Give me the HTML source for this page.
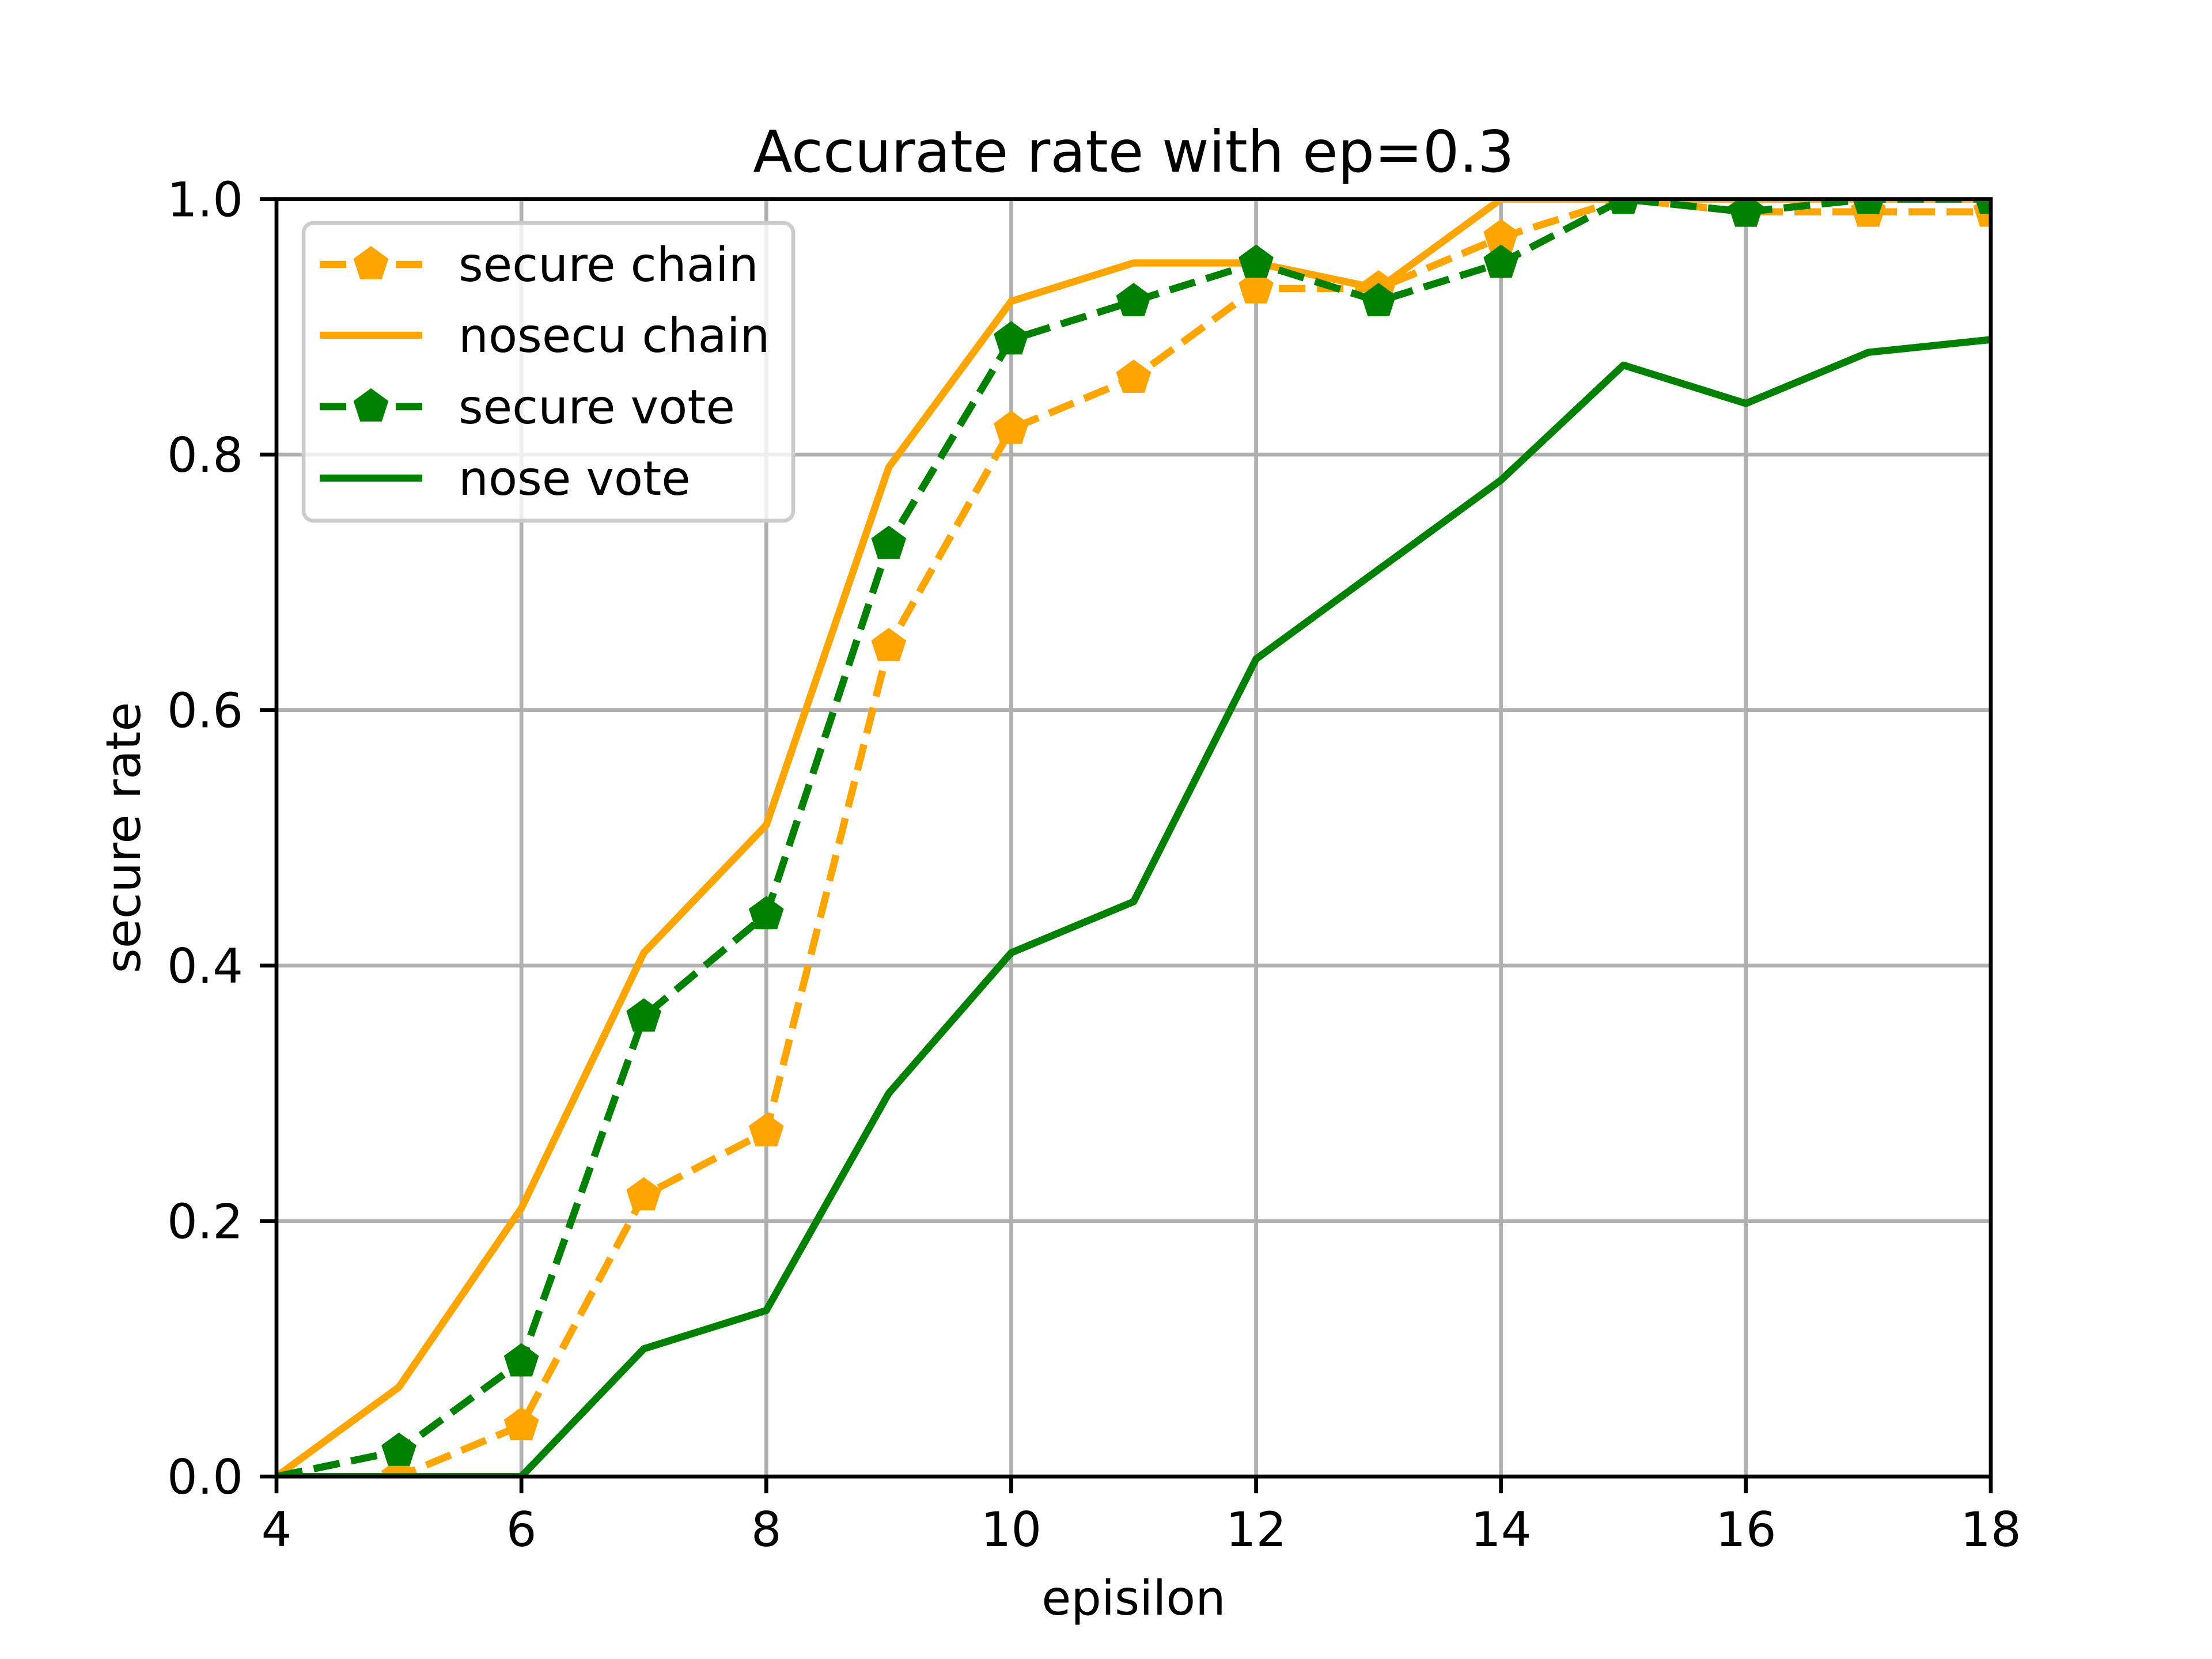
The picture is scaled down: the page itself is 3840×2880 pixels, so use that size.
<!DOCTYPE html>
<html><head><meta charset="utf-8">
<style>
html,body{margin:0;padding:0;background:#fff;}
svg{display:block;font-family:"DejaVu Sans","Liberation Sans",sans-serif;}
</style></head>
<body>
<svg id="chart" width="3840" height="2880" viewBox="0 0 3840 2880" xmlns="http://www.w3.org/2000/svg">
<defs><clipPath id="plotclip"><rect x="480" y="345.6" width="2976" height="2217.6"/></clipPath></defs>
<rect width="3840" height="2880" fill="#fff"/>
<g id="grid"></g>
<g id="series" clip-path="url(#plotclip)"></g>
<g id="axes"></g>
<text x="1968" y="298" font-size="100" text-anchor="middle">Accurate rate with ep=0.3</text>
<text x="1968" y="2803" font-size="83" text-anchor="middle">episilon</text>
<text x="0" y="0" font-size="83" text-anchor="middle" transform="translate(243,1454) rotate(-90)">secure rate</text>
<g id="legend"></g>
</svg>
<script>
const xValues = [4,5,6,7,8,9,10,11,12,13,14,15,16,17,18];
const secureChain = [0,0,0.04,0.22,0.27,0.65,0.82,0.86,0.93,0.93,0.97,1.0,0.99,0.99,0.99];
const nosecuChain = [0,0.07,0.21,0.41,0.51,0.79,0.92,0.95,0.95,0.93,1.0,1.0,1.0,1.0,1.0];
const secureVote = [0,0.02,0.09,0.36,0.44,0.73,0.89,0.92,0.95,0.92,0.95,1.0,0.99,1.0,1.0];
const noseVote = [0,0,0,0.10,0.13,0.30,0.41,0.45,0.64,0.71,0.78,0.87,0.84,0.88,0.89];
const xTicks = [4,6,8,10,12,14,16,18];
const yTicks = [0,0.2,0.4,0.6,0.8,1.0];
const yTickLabels = ["0.0","0.2","0.4","0.6","0.8","1.0"];
const seriesNames = ["secure chain","nosecu chain","secure vote","nose vote"];

const NS="http://www.w3.org/2000/svg";
const L=480,R=3456,T=345.6,B=2563.2;
const xMin=4,xMax=18,yMin=0,yMax=1;
function sx(v){return L+(v-xMin)/(xMax-xMin)*(R-L);}
function sy(v){return B-(v-yMin)/(yMax-yMin)*(B-T);}
function mk(tag,attrs,parent){const e=document.createElementNS(NS,tag);for(const k in attrs)e.setAttribute(k,attrs[k]);parent.appendChild(e);return e;}
const grid=document.getElementById('grid'),axes=document.getElementById('axes'),ser=document.getElementById('series'),leg=document.getElementById('legend');

xTicks.forEach(t=>{
  const g=mk('line',{x1:sx(t),x2:sx(t),y1:T,y2:B,stroke:'#b0b0b0','stroke-width':6.7},grid);
  
  
  const tk=mk('line',{x1:sx(t),x2:sx(t),y1:B,y2:B+29,stroke:'#000','stroke-width':6.7},axes);
  
  
  const tx=mk('text',{x:sx(t),y:2684,'font-size':83,'text-anchor':'middle'},axes);
  tx.textContent=t;
  
  
});
yTicks.forEach((t,i)=>{
  const g=mk('line',{x1:L,x2:R,y1:sy(t),y2:sy(t),stroke:'#b0b0b0','stroke-width':6.7},grid);
  
  
  const tk=mk('line',{x1:L-29,x2:L,y1:sy(t),y2:sy(t),stroke:'#000','stroke-width':6.7},axes);
  
  
  const tx=mk('text',{x:422,y:sy(t)+30,'font-size':83,'text-anchor':'end'},axes);
  tx.textContent=yTickLabels[i];
  
  
});
const frame=mk('rect',{x:L,y:T,width:R-L,height:B-T,fill:'none',stroke:'#000','stroke-width':6.7,'stroke-linecap':'square'},axes);



function pent(cx,cy,r){let p=[];for(let k=0;k<5;k++){const a=-Math.PI/2+k*2*Math.PI/5;p.push((cx+r*Math.cos(a)).toFixed(1)+','+(cy+r*Math.sin(a)).toFixed(1));}return p.join(' ');}
const cfg=[
 {d:secureChain,c:'#ffa500',dash:true,m:true,n:'secure-chain'},
 {d:nosecuChain,c:'#ffa500',dash:false,m:false,n:'nosecu-chain'},
 {d:secureVote,c:'#008000',dash:true,m:true,n:'secure-vote'},
 {d:noseVote,c:'#008000',dash:false,m:false,n:'nose-vote'}];
cfg.forEach(s=>{
  const pts=xValues.map((x,i)=>sx(x)+','+sy(s.d[i])).join(' ');
  const a={points:pts,fill:'none',stroke:s.c,'stroke-width':12.5,'stroke-linejoin':'round'};
  if(s.dash)a['stroke-dasharray']='46 20';
  const pl=mk('polyline',a,ser);
  
  
  if(s.m){xValues.forEach((x,i)=>{
    if(x===xMin)return;
    const p=mk('polygon',{points:pent(sx(x),sy(s.d[i]),27),fill:s.c,stroke:s.c,'stroke-width':8},ser);
    
    
  });}
});

// legend
const box=mk('rect',{x:527,y:387,width:850,height:517,rx:17,fill:'#fff','fill-opacity':0.8,stroke:'#cccccc','stroke-width':6.7},leg);


const rows=[459,582,706,830];
cfg.forEach((s,i)=>{
  const y=rows[i];
  const a={x1:555,x2:733,y1:y,y2:y,stroke:s.c,'stroke-width':12.5};
  if(s.dash)a['stroke-dasharray']='46 20';
  const ln=mk('line',a,leg);
  
  
  if(s.m){const p=mk('polygon',{points:pent(644,y,27),fill:s.c,stroke:s.c,'stroke-width':8},leg);
    
    }
  const t=mk('text',{x:796,y:y+29,'font-size':82},leg);
  t.textContent=seriesNames[i];
  
  
});
</script>
</body></html>
